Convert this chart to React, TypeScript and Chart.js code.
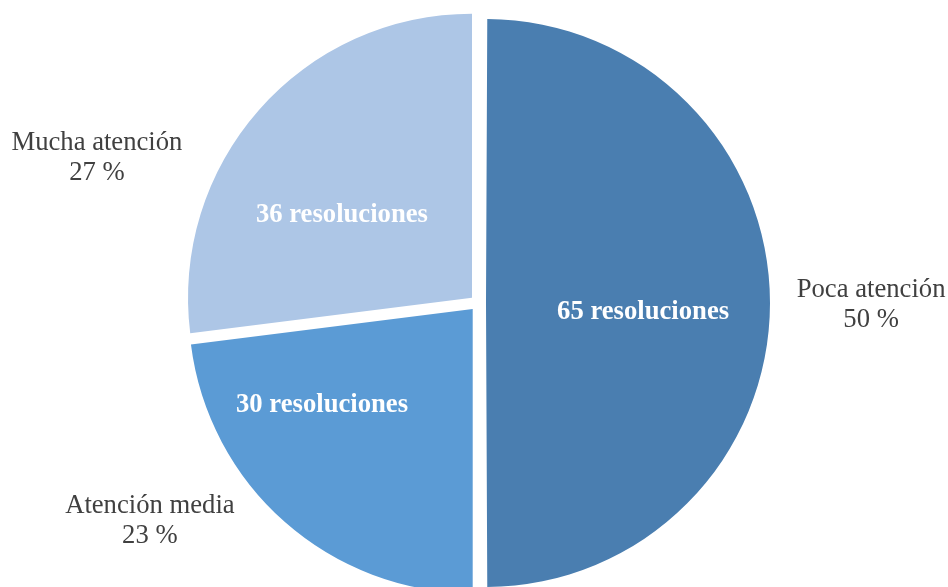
import React, { useEffect, useRef } from "react";
import { Chart, registerables } from "chart.js";

Chart.register(...registerables);

const categories = ["Poca atención", "Atención media", "Mucha atención"];
const percentages = [50, 23, 27];
const resoluciones = [65, 30, 36];
const colors = ["#4a7eb0", "#5b9bd5", "#adc6e6"];

// label placement tweaks (fraction of radius, angle tweak in degrees)
const innerFrac = [0.554, 0.629, 0.543];
const innerTweak = [3.3, 16.1, -8.9];
const outerFrac = [1.356, 1.36, 1.409];
const outerTweak = [0.3, 15.3, -21.0];

// Chart.js enlarges a half-circle slice by its offset; undo that so all slices share one radius
const equalRadiusPlugin = {
  id: "equalRadius",
  afterDatasetUpdate(chart: any, args: any) {
    const meta = args.meta || chart.getDatasetMeta(args.index);
    meta.data.forEach((arc: any) => {
      const off = (arc.options?.offset || 0) / 4;
      const c = arc.circumference;
      const fix = 1 - Math.sin(Math.min(Math.PI, c || 0));
      arc.outerRadius = arc.outerRadius - off * fix;
    });
  },
};

const labelPlugin = {
  id: "sliceLabels",
  afterDatasetsDraw(chart: any) {
    const ctx = chart.ctx;
    const meta = chart.getDatasetMeta(0);
    meta.data.forEach((arc: any, i: number) => {
      const p = arc.getProps(["x", "y", "startAngle", "endAngle", "outerRadius", "circumference"], true);
      const mid = (p.startAngle + p.endAngle) / 2;
      const off = (arc.options.offset || 0) / 4;
      const fix = 1 - Math.sin(Math.min(Math.PI, p.circumference || 0));
      const cx = p.x + Math.cos(mid) * off;
      const cy = p.y + Math.sin(mid) * off;
      const r = p.outerRadius + off * fix;
      ctx.save();
      ctx.textAlign = "center";
      ctx.textBaseline = "middle";
      const a1 = mid + (innerTweak[i] * Math.PI) / 180;
      const ix = cx + Math.cos(a1) * r * innerFrac[i];
      const iy = cy + Math.sin(a1) * r * innerFrac[i];
      ctx.fillStyle = "#ffffff";
      ctx.font = "bold 26.67px 'Liberation Serif', 'Times New Roman', serif";
      ctx.fillText(`${resoluciones[i]} resoluciones`, ix, iy);
      const a2 = mid + (outerTweak[i] * Math.PI) / 180;
      const ox = cx + Math.cos(a2) * r * outerFrac[i];
      const oy = cy + Math.sin(a2) * r * outerFrac[i];
      ctx.fillStyle = "#404040";
      ctx.font = "26.67px 'Liberation Serif', 'Times New Roman', serif";
      ctx.fillText(categories[i], ox, oy - 15);
      ctx.fillText(`${percentages[i]} %`, ox, oy + 15);
      ctx.restore();
    });
  },
};

export default function App() {
  const ref = useRef<HTMLCanvasElement>(null);
  useEffect(() => {
    if (!ref.current) return;
    const chart = new Chart(ref.current, {
      type: "pie",
      data: {
        labels: categories,
        datasets: [
          {
            data: percentages,
            backgroundColor: colors,
            borderWidth: 0,
            offset: 32,
            radius: 284,
          } as any,
        ],
      },
      options: {
        responsive: false,
        animation: false,
        layout: { padding: { left: 8, right: 0, top: 0, bottom: 0 } },
        plugins: {
          legend: { display: false },
          tooltip: { enabled: false },
        },
      },
      plugins: [equalRadiusPlugin, labelPlugin],
    });
    return () => chart.destroy();
  }, []);
  return (
    <div
      style={{
        position: "fixed",
        left: 0,
        top: 0,
        width: 948,
        height: 587,
        overflow: "hidden",
        background: "#ffffff",
      }}
    >
      <canvas ref={ref} width={948} height={606} style={{ display: "block" }} />
    </div>
  );
}
